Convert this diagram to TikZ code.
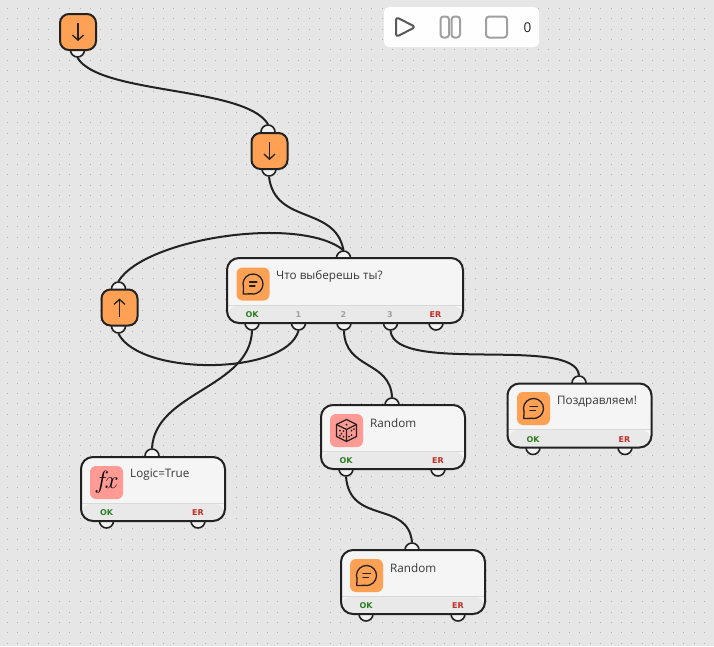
\documentclass[tikz,border=0pt]{standalone}
\usepackage{fontspec}
\setmainfont{Open Sans}
\newfontfamily\portfont{DejaVu Sans}
\usetikzlibrary{arrows.meta, positioning}

\definecolor{canvas}{HTML}{E6E6E6}
\definecolor{griddot}{HTML}{B2B2B2}
\definecolor{ink}{HTML}{222222}
\definecolor{footer}{HTML}{E9E9E9}
\definecolor{footerline}{HTML}{D9D9D9}
\definecolor{chatorange}{HTML}{FFA155}
\definecolor{logicred}{HTML}{FF9A94}
\definecolor{okgreen}{HTML}{2B7F22}
\definecolor{ergred}{HTML}{BE2E24}
\definecolor{numgrey}{HTML}{A0A0A0}

\tikzset{
    pics/chat/.style = {code = {
        \draw[glyph, line join = round]
            (-9.4, 3.4) arc[start angle = 200, end angle = -100, radius = 10pt]
            -- (-9.8, 10) -- cycle;
        \draw[glyph, line cap = round] (-3.5, -2) -- (4, -2);
        \draw[glyph, line cap = round] (-3.5, 2) -- (2, 2);
    }},
    pics/dice/.style = {code = {
        \draw[glyph, line join = round]
            (0, -11) -- (10, -6) -- (10, 6) -- (0, 11) -- (-10, 6) -- (-10, -6) -- cycle;
        \draw[glyph, line join = round] (-10, -6) -- (0, -1) -- (10, -6) (0, -1) -- (0, 11);
        \foreach \px/\py in {0/-6, -6.5/0, -3/0.5, -6.5/5, -3/6, -5/3, 5/0, 5/4.5, 7.5/-1.5, 2.5/6}
            \fill[ink] (\px, \py) circle[radius = 1pt];
    }}
}

\begin{document}
\begin{tikzpicture}[
        x = 1pt, y = -1pt,
        glyph/.style = {draw = ink, line width = 1.3pt},
        wire/.style = {draw = ink, line width = 2pt},
        port/.style = {circle, draw = ink, line width = 1.6pt, fill = black!5,
            minimum size = 14pt, inner sep = 0pt},
        block/.style = {rectangle, rounded corners = 12pt, draw = ink, line width = 2pt,
            fill = black!4, minimum width = 144pt, minimum height = 64pt, inner sep = 0pt,
            path picture = {
                \fill[footer] ([yshift = 18pt]path picture bounding box.south west)
                    rectangle (path picture bounding box.south east);
                \draw[footerline, line width = 1pt]
                    ([yshift = 18pt]path picture bounding box.south west)
                    -- ([yshift = 18pt]path picture bounding box.south east);
            }},
        tile/.style = {rectangle, rounded corners = 9pt, draw = ink, line width = 2pt,
            fill = chatorange, minimum size = 36pt, inner sep = 0pt},
        icon/.style = {rectangle, rounded corners = 6pt, minimum size = 33pt, inner sep = 0pt},
        title/.style = {anchor = west, inner sep = 0pt, text = ink!90, font = \fontsize{11.7}{13}\selectfont},
        oktag/.style = {text = okgreen, inner sep = 0pt, font = \portfont\bfseries\fontsize{8}{9}\selectfont},
        ertag/.style = {text = ergred, inner sep = 0pt, font = \portfont\bfseries\fontsize{8}{9}\selectfont},
        numtag/.style = {text = numgrey, inner sep = 0pt, font = \portfont\bfseries\fontsize{8}{9}\selectfont},
        chevron/.style = {glyph, -{Straight Barb[length = 5pt, width = 11pt, line width = 1.3pt]}},
        panelbtn/.style = {draw = numgrey, line width = 2pt, rounded corners = 3pt}
    ]

    \useasboundingbox (0, 0) rectangle (714, 646);
    \fill[canvas] (0, 0) rectangle (714, 646);

    % dotted canvas
    \foreach \col in {0, ..., 68}
        \foreach \row in {0, ..., 61}
            \fill[griddot] ({6.8 + 10.41 * \col}, {7.8 + 10.41 * \row}) rectangle ++(1, 1);

    % control panel
    \node[rectangle, rounded corners = 5pt, fill = white!96!canvas, minimum width = 155pt,
        minimum height = 40pt, inner sep = 0pt] (panel) at (461.5, 27) {};
    \draw[panelbtn, draw = black!65, line join = round] (396, 17) -- (415.5, 27) -- (396, 37) -- cycle;
    \draw[panelbtn] (440.5, 16.5) rectangle (449, 37.5);
    \draw[panelbtn] (451.5, 16.5) rectangle (460, 37.5);
    \draw[panelbtn] (486, 16.5) rectangle (507, 37.5);
    \node[inner sep = 0pt, text = ink, font = \fontsize{13.5}{15}\selectfont] (counter) at (527.5, 28) {0};

    % ports go first, the blocks cover their inner half
    \node[port] (in_a_out)  at (77.5, 50)  {};
    \node[port] (in_b_in)   at (268, 132)  {};
    \node[port] (in_b_out)  at (269, 169)  {};
    \node[port] (back_in)   at (118.5, 289) {};
    \node[port] (back_out)  at (118.5, 326) {};

    \node[port] (ask_in)    at (343.5, 258) {};
    \node[port] (ask_ok)    at (252, 323)  {};
    \node[port] (ask_one)   at (298.5, 323) {};
    \node[port] (ask_two)   at (344, 323)  {};
    \node[port] (ask_three) at (390.5, 323) {};
    \node[port] (ask_er)    at (436, 323)  {};

    \node[port] (logic_in)  at (152, 456)  {};
    \node[port] (logic_ok)  at (106.5, 521) {};
    \node[port] (logic_er)  at (198, 521)  {};

    \node[port] (rand_in)   at (392, 405)  {};
    \node[port] (rand_ok)   at (346, 469)  {};
    \node[port] (rand_er)   at (438, 469)  {};

    \node[port] (say_in)    at (412, 550)  {};
    \node[port] (say_ok)    at (366, 614)  {};
    \node[port] (say_er)    at (458, 614)  {};

    \node[port] (win_in)    at (579, 383)  {};
    \node[port] (win_ok)    at (533, 447.5) {};
    \node[port] (win_er)    at (625, 447.5) {};

    % small tiles
    \node[tile] (in_a) at (78, 32)    {};
    \node[tile] (in_b) at (269.5, 151) {};
    \node[tile] (back) at (119.5, 307.5) {};

    \draw[chevron] ([yshift = 9pt]in_a.center) -- ([yshift = -9pt]in_a.center);
    \draw[chevron] ([yshift = 9pt]in_b.center) -- ([yshift = -9pt]in_b.center);
    \draw[chevron] ([yshift = -9pt]back.center) -- ([yshift = 9pt]back.center);

    % blocks
    \node[block, minimum width = 236pt, minimum height = 65pt] (ask) at (345, 290.5) {};
    \node[block] (logic) at (153, 489)   {};
    \node[block] (rand)  at (393, 437)   {};
    \node[block] (say)   at (413, 582)   {};
    \node[block] (win)   at (579.5, 415.5) {};

    \node[icon, fill = chatorange] (ask_icon)   at (253, 284)   {};
    \node[icon, fill = logicred]   (logic_icon) at (106.5, 482.5) {\fontsize{23}{23}\selectfont$f\!x$};
    \node[icon, fill = logicred]   (rand_icon)  at (346.5, 430.5) {};
    \node[icon, fill = chatorange] (say_icon)   at (366.5, 575.5) {};
    \node[icon, fill = chatorange] (win_icon)   at (533.5, 408.5) {};

    \pic at (ask_icon)  {chat};
    \pic at (rand_icon) {dice};
    \pic at (say_icon)  {chat};
    \pic at (win_icon)  {chat};

    \node[title] (ask_title)   at (276, 276.5) {Что выберешь ты?};
    \node[title] (logic_title) at (130, 474.5) {Logic=True};
    \node[title] (rand_title)  at (370, 423.5) {Random};
    \node[title] (say_title)   at (390, 568.5) {Random};
    \node[title] (win_title)   at (557, 401.5) {Поздравляем!};

    % port captions
    \node[oktag]  (ask_ok_tag)    at (252, 314.5) {OK};
    \node[numtag] (ask_one_tag)   at (298.5, 314.5) {1};
    \node[numtag] (ask_two_tag)   at (343.5, 314.5) {2};
    \node[numtag] (ask_three_tag) at (390, 314.5) {3};
    \node[ertag]  (ask_er_tag)    at (435.5, 314.5) {ER};

    \node[oktag] (logic_ok_tag) at (106.5, 512.5) {OK};
    \node[ertag] (logic_er_tag) at (198, 512.5)   {ER};
    \node[oktag] (rand_ok_tag)  at (346, 460.5)   {OK};
    \node[ertag] (rand_er_tag)  at (438, 460.5)   {ER};
    \node[oktag] (say_ok_tag)   at (366, 605.5)   {OK};
    \node[ertag] (say_er_tag)   at (458, 605.5)   {ER};
    \node[oktag] (win_ok_tag)   at (533, 439.5)   {OK};
    \node[ertag] (win_er_tag)   at (624.5, 439.5) {ER};

    % wires
    \draw[wire] (in_a_out.south) .. controls (100, 95) and (245, 86) .. (in_b_in.north);
    \draw[wire] (in_b_out.south) .. controls (275, 225) and (335, 205) .. (ask_in.north);
    \draw[wire] (back_in.north) .. controls (145, 238) and (300, 215) .. (ask_in.north);
    \draw[wire] (back_out.south) .. controls (140, 376) and (285, 376) .. (ask_one.south);
    \draw[wire] (ask_ok.south) .. controls (250, 388) and (155, 392) .. (logic_in.north);
    \draw[wire] (ask_two.south) .. controls (345, 370) and (390, 360) .. (rand_in.north);
    \draw[wire] (ask_three.south) .. controls (395, 375) and (575, 335) .. (win_in.north);
    \draw[wire] (rand_ok.south) .. controls (350, 525) and (408, 500) .. (say_in.north);

\end{tikzpicture}
\end{document}
